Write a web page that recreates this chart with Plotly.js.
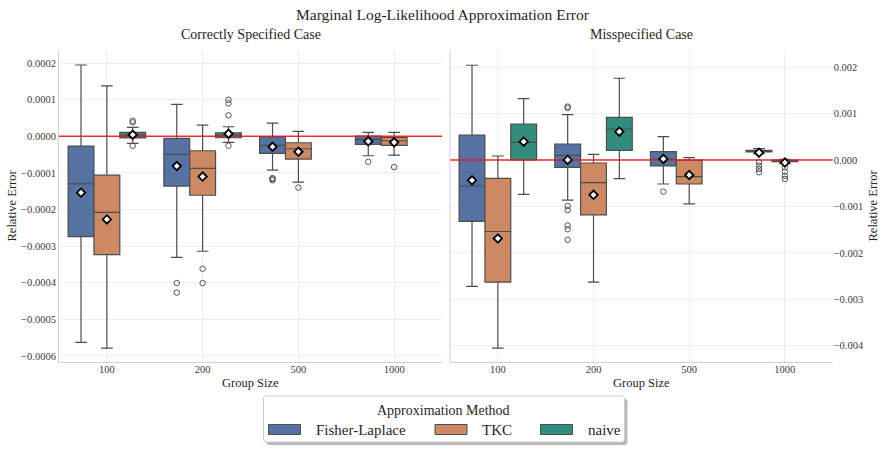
<!DOCTYPE html>
<html>
<head>
<meta charset="utf-8">
<script src="https://cdn.plot.ly/plotly-3.0.1.min.js"></script>
<style>
  html, body { margin: 0; padding: 0; background: #ffffff; }
  #chart { width: 883px; height: 453px; }
</style>
</head>
<body>
<div id="chart"></div>
<script>
// ---------- data ----------
const categories = ['100', '200', '500', '1000'];
const methods = ['Fisher-Laplace', 'TKC', 'naive'];
const methodColors = ['#5572a2', '#cc8963', '#338d7e'];

// Correctly specified case: box statistics per group size (null = no box)
const correctFL_q1     = [-0.000274, -0.000136, -0.0000464, -0.0000219];
const correctFL_median = [-0.000130, -0.0000492, -0.0000246, -0.0000082];
const correctFL_q3     = [-0.0000265, -0.0000055, -0.000001, 0.0000008];
const correctFL_lo     = [-0.000563, -0.000331, -0.0000921, -0.000053];
const correctFL_hi     = [0.000195, 0.0000874, 0.0000363, 0.0000109];
const correctFL_mean   = [-0.000154, -0.0000811, -0.0000284, -0.0000137];
const correctFL_out    = [[], [-0.000401, -0.000427], [-0.000114, -0.000117, -0.000120], [-0.0000694]];

const correctTKC_q1     = [-0.000323, -0.000161, -0.000062, -0.0000246];
const correctTKC_median = [-0.000208, -0.0000874, -0.0000339, -0.000012];
const correctTKC_q3     = [-0.000106, -0.0000393, -0.0000175, -0.0000027];
const correctTKC_lo     = [-0.000579, -0.000314, -0.000125, -0.0000511];
const correctTKC_hi     = [0.000138, 0.0000309, 0.0000137, 0.0000109];
const correctTKC_mean   = [-0.000227, -0.000110, -0.0000421, -0.0000164];
const correctTKC_out    = [[], [-0.000362, -0.000401], [-0.000140], [-0.0000839]];

const correctNaive_q1     = [-0.000004, -0.0000038, null, null];
const correctNaive_median = [0.0000035, 0.0000036, null, null];
const correctNaive_q3     = [0.000011, 0.0000098, null, null];
const correctNaive_lo     = [-0.000019, -0.0000164, null, null];
const correctNaive_hi     = [0.0000246, 0.0000262, null, null];
const correctNaive_mean   = [0.0000044, 0.0000071, null, null];
const correctNaive_out    = [[0.0000426, 0.0000382, -0.0000257], [0.000100, 0.0000902, 0.0000574, -0.0000257], [], []];

// Misspecified case
const misFL_q1     = [-0.00132, -0.000157, -0.000129, 0.000172];
const misFL_median = [-0.00056, 0.000101, 0.0000151, 0.000194];
const misFL_q3     = [0.000538, 0.000344, 0.000179, 0.000209];
const misFL_lo     = [-0.00272, -0.000864, -0.000517, 0.000136];
const misFL_hi     = [0.00204, 0.000975, 0.000502, 0.000243];
const misFL_mean   = [-0.000437, 0.000002, 0.0000215, 0.000157];
const misFL_out    = [[], [0.00115, 0.00112, -0.00099, -0.00108, -0.00141, -0.00149, -0.00172], [-0.000682], [-0.00005, -0.000122, -0.000194, -0.000265]];

const misTKC_q1     = [-0.00263, -0.00118, -0.000517, -0.000037];
const misTKC_median = [-0.00154, -0.000488, -0.000359, -0.000015];
const misTKC_q3     = [-0.000394, -0.0000646, -0.000005, 0.0];
const misTKC_lo     = [-0.00405, -0.00263, -0.000947, -0.00008];
const misTKC_hi     = [0.0000861, 0.000122, 0.0000495, 0.000015];
const misTKC_mean   = [-0.00169, -0.00075, -0.000323, -0.000055];
const misTKC_out    = [[], [], [], [-0.00016, -0.00025, -0.00034, -0.00041]];

const misNaive_q1     = [0.0, 0.000209, null, null];
const misNaive_median = [0.000381, 0.000667, null, null];
const misNaive_q3     = [0.000775, 0.000919, null, null];
const misNaive_lo     = [-0.000742, -0.000402, null, null];
const misNaive_hi     = [0.00132, 0.00176, null, null];
const misNaive_mean   = [0.000394, 0.00061, null, null];
const misNaive_out    = [[], [], [], []];

// ---------- layout helpers ----------
const W = 883, H = 453;
const px = v => v / W;          // pixel -> paper x (margins are zero)
const py = v => 1 - v / H;      // pixel -> paper y
const FONT = 'Liberation Serif';
const TEXT = '#262626';
const EDGE = '#4d4d4d';
const BOX_W = 0.27;             // box width in category units
const OFFSETS = [-BOX_W, 0, BOX_W];

const panels = [
  { xa: 'x', ya: 'y', stats: [
      [correctFL_q1, correctFL_median, correctFL_q3, correctFL_lo, correctFL_hi, correctFL_mean, correctFL_out],
      [correctTKC_q1, correctTKC_median, correctTKC_q3, correctTKC_lo, correctTKC_hi, correctTKC_mean, correctTKC_out],
      [correctNaive_q1, correctNaive_median, correctNaive_q3, correctNaive_lo, correctNaive_hi, correctNaive_mean, correctNaive_out]
  ]},
  { xa: 'x2', ya: 'y2', stats: [
      [misFL_q1, misFL_median, misFL_q3, misFL_lo, misFL_hi, misFL_mean, misFL_out],
      [misTKC_q1, misTKC_median, misTKC_q3, misTKC_lo, misTKC_hi, misTKC_mean, misTKC_out],
      [misNaive_q1, misNaive_median, misNaive_q3, misNaive_lo, misNaive_hi, misNaive_mean, misNaive_out]
  ]}
];

const boxTraces = [], refLines = [], pointTraces = [];

panels.forEach(p => {
  p.stats.forEach((s, m) => {
    const [q1, med, q3, lo, hi, mean, out] = s;
    const idx = categories.map((c, i) => i).filter(i => q1[i] !== null);
    const pos = idx.map(i => i + OFFSETS[m]);
    boxTraces.push({
      type: 'box', xaxis: p.xa, yaxis: p.ya, name: methods[m], showlegend: false,
      x: pos,
      q1: idx.map(i => q1[i]), median: idx.map(i => med[i]), q3: idx.map(i => q3[i]),
      lowerfence: idx.map(i => lo[i]), upperfence: idx.map(i => hi[i]),
      width: BOX_W, whiskerwidth: 0.45, boxpoints: false,
      fillcolor: methodColors[m], line: { color: EDGE, width: 1.2 },
      hoverinfo: 'skip'
    });
    // outliers
    const ox = [], oy = [];
    out.forEach((vals, i) => vals.forEach(v => { ox.push(i + OFFSETS[m]); oy.push(v); }));
    if (ox.length) {
      pointTraces.push({
        type: 'scatter', mode: 'markers', xaxis: p.xa, yaxis: p.ya, showlegend: false,
        x: ox, y: oy, hoverinfo: 'skip',
        marker: { symbol: 'circle-open', size: 5.5, color: '#555555', line: { width: 1 } }
      });
    }
    // means
    pointTraces.push({
      type: 'scatter', mode: 'markers', xaxis: p.xa, yaxis: p.ya, showlegend: false,
      x: pos, y: idx.map(i => mean[i]), hoverinfo: 'skip',
      marker: { symbol: 'diamond', size: 6.5, color: '#ffffff', line: { color: '#000000', width: 1.8 } }
    });
  });
  // zero reference line
  refLines.push({
    type: 'scatter', mode: 'lines', xaxis: p.xa, yaxis: p.ya, showlegend: false,
    x: [-0.5, 3.5], y: [0, 0], hoverinfo: 'skip',
    line: { color: 'rgba(228,26,28,0.9)', width: 1.5 }
  });
});

const data = boxTraces.concat(refLines, pointTraces);

const tickFont = { family: FONT, size: 10.5, color: '#3a3a3a' };
const gridColor = '#eeeeee';
const yDom = [py(362.3), py(50)];

const xCommon = {
  range: [-0.5, 3.5], tickmode: 'array', tickvals: categories.map((c, i) => i), ticktext: categories,
  showgrid: true, gridcolor: gridColor, zeroline: false, ticks: '', ticklabelstandoff: -3,
  showline: true, linecolor: '#d0d0d0', linewidth: 1, tickfont: tickFont, fixedrange: true
};

const layout = {
  width: W, height: H,
  margin: { l: 0, r: 0, t: 0, b: 0 },
  paper_bgcolor: '#ffffff', plot_bgcolor: '#ffffff',
  showlegend: false, boxmode: 'overlay',
  font: { family: FONT, color: TEXT },
  xaxis: Object.assign({}, xCommon, { domain: [px(59), px(442)], anchor: 'y' }),
  xaxis2: Object.assign({}, xCommon, { domain: [px(450), px(832.7)], anchor: 'y2' }),
  yaxis: {
    domain: yDom, anchor: 'x', range: [-0.0006175, 0.000236], tick0: 0, dtick: 0.0001, tickformat: '.4f',
    showgrid: true, gridcolor: gridColor, zeroline: false, ticks: '',
    showline: true, linecolor: '#d0d0d0', linewidth: 1, tickfont: tickFont, fixedrange: true
  },
  yaxis2: {
    domain: yDom, anchor: 'x2', side: 'right', range: [-0.004356, 0.002368], tick0: 0, dtick: 0.001, tickformat: '.3f',
    showgrid: true, gridcolor: gridColor, zeroline: false, ticks: '',
    showline: false, tickfont: tickFont, fixedrange: true
  },
  shapes: [],
  annotations: []
};

// left spine of the second panel (its tick labels sit on the right)
layout.shapes.push({
  type: 'line', xref: 'x2 domain', yref: 'y2 domain', x0: 0, x1: 0, y0: 0, y1: 1,
  line: { color: '#d0d0d0', width: 1 }, layer: 'above'
});

// titles
const ann = (text, x, y, size, extra) => Object.assign({
  text: text, x: x, y: y, xref: 'paper', yref: 'paper', showarrow: false,
  xanchor: 'center', yanchor: 'middle', font: { family: FONT, size: size, color: TEXT }
}, extra || {});

layout.annotations.push(ann('Marginal Log-Likelihood Approximation Error', px(443), py(14), 15.5));
layout.annotations.push(ann('Correctly Specified Case', px(250.5), py(35), 14));
layout.annotations.push(ann('Misspecified Case', px(641.3), py(35), 14));
layout.annotations.push(ann('Group Size', px(250.5), py(382.5), 12.5));
layout.annotations.push(ann('Group Size', px(641.3), py(382.5), 12.5));
layout.annotations.push(ann('Relative Error', px(11.5), py(206), 12.5, { textangle: -90 }));
layout.annotations.push(ann('Relative Error', px(872.5), py(206), 12.5, { textangle: -90 }));

// legend frame with drop shadow
const LG = { x0: 263.5, x1: 624.5, y0: 396, y1: 442, r: 3 };
function roundRect(x0, y0, x1, y1, r) {
  const X = v => px(v), Y = v => py(v);
  return 'M' + X(x0 + r) + ',' + Y(y0) + ' L' + X(x1 - r) + ',' + Y(y0) +
    ' Q' + X(x1) + ',' + Y(y0) + ' ' + X(x1) + ',' + Y(y0 + r) +
    ' L' + X(x1) + ',' + Y(y1 - r) + ' Q' + X(x1) + ',' + Y(y1) + ' ' + X(x1 - r) + ',' + Y(y1) +
    ' L' + X(x0 + r) + ',' + Y(y1) + ' Q' + X(x0) + ',' + Y(y1) + ' ' + X(x0) + ',' + Y(y1 - r) +
    ' L' + X(x0) + ',' + Y(y0 + r) + ' Q' + X(x0) + ',' + Y(y0) + ' ' + X(x0 + r) + ',' + Y(y0) + ' Z';
}
layout.shapes.push({
  type: 'path', xref: 'paper', yref: 'paper', layer: 'above',
  path: roundRect(LG.x0 + 3, LG.y0 + 3, LG.x1 + 3, LG.y1 + 3, LG.r),
  fillcolor: 'rgba(0,0,0,0.28)', line: { width: 0 }
});
layout.shapes.push({
  type: 'path', xref: 'paper', yref: 'paper', layer: 'above',
  path: roundRect(LG.x0, LG.y0, LG.x1, LG.y1, LG.r),
  fillcolor: '#ffffff', line: { color: '#cccccc', width: 1 }
});
layout.annotations.push(ann('Approximation Method', px(443), py(410), 14));

const swatchX = [268.5, 435, 540.5];
methods.forEach((m, i) => {
  layout.shapes.push({
    type: 'rect', xref: 'paper', yref: 'paper', layer: 'above',
    x0: px(swatchX[i]), x1: px(swatchX[i] + 32), y0: py(434.5), y1: py(424.5),
    fillcolor: methodColors[i], line: { color: EDGE, width: 1 }
  });
  layout.annotations.push(ann(m, px(swatchX[i] + 45), py(430), 15, { xanchor: 'left' }));
});

Plotly.newPlot('chart', data, layout, { staticPlot: true, displayModeBar: false });
</script>
</body>
</html>
